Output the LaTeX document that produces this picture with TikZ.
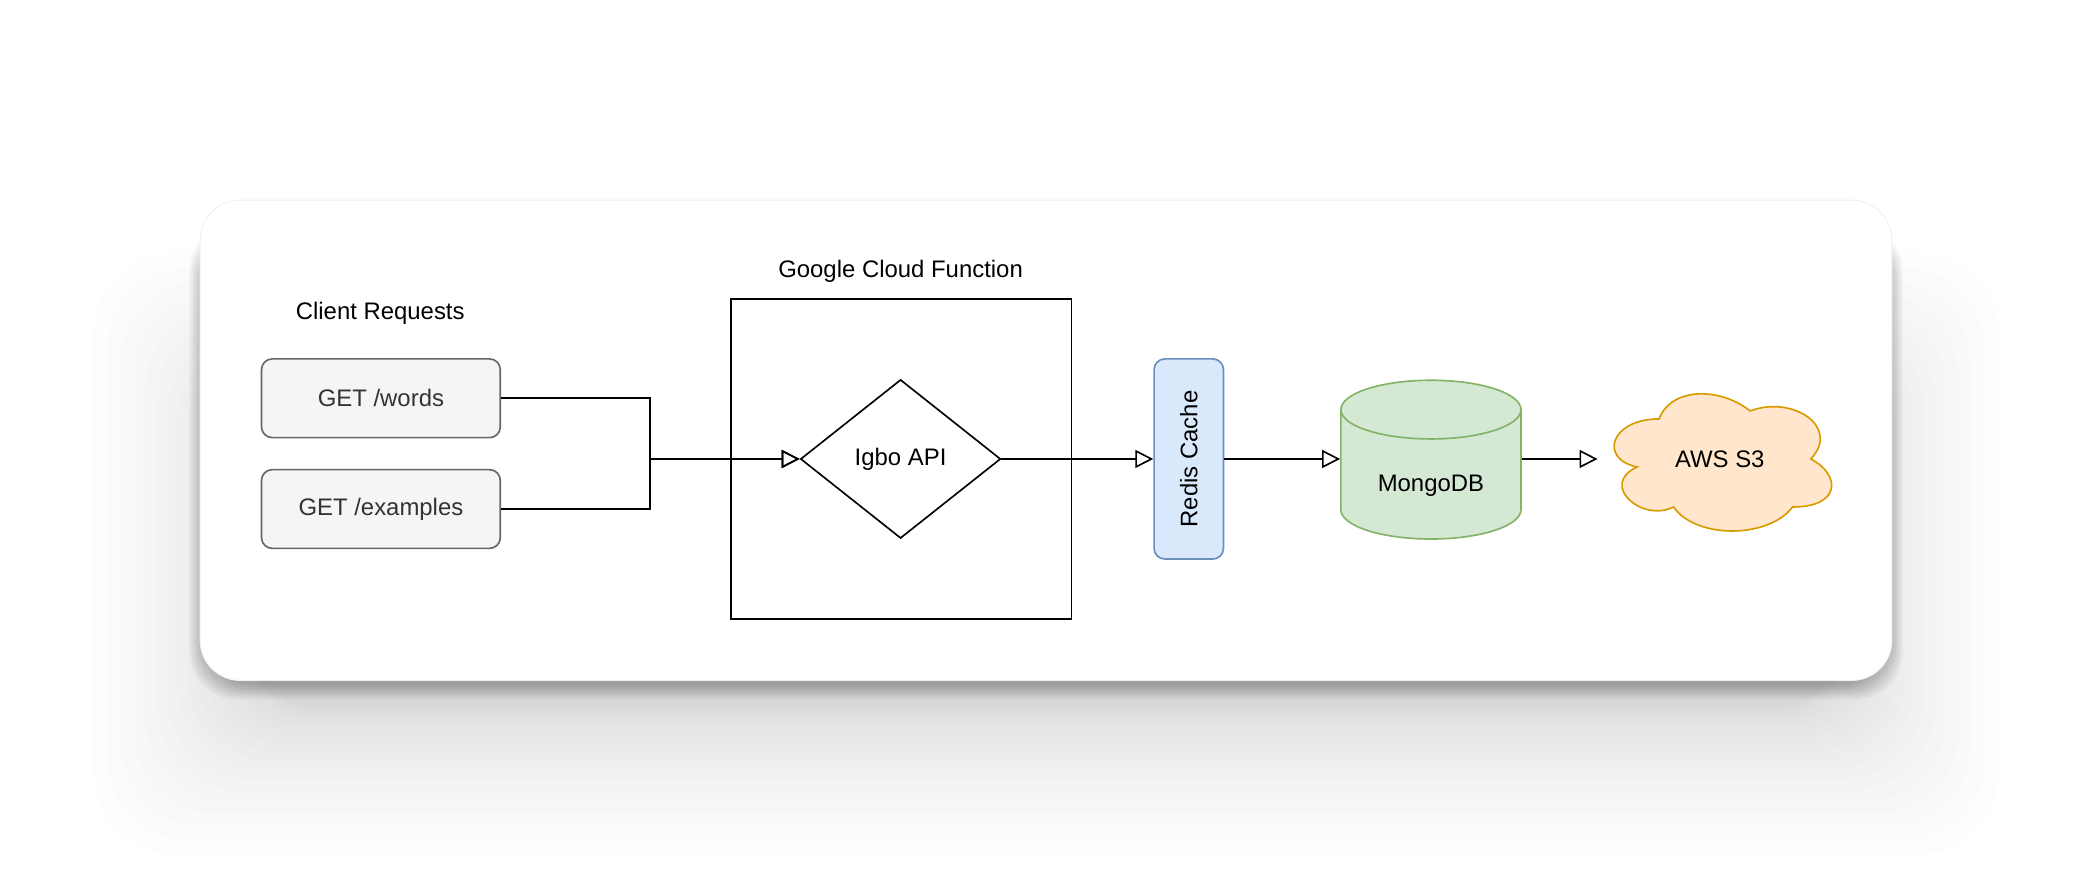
\documentclass[tikz,border=0pt]{standalone}
\usepackage{fontspec}
\setmainfont{Liberation Sans}
\usepackage{graphicx}
\usetikzlibrary{arrows.meta,positioning,shapes.geometric}

\definecolor{reqfill}{HTML}{F5F5F5}
\definecolor{reqdraw}{HTML}{666666}
\definecolor{reqtext}{HTML}{333333}
\definecolor{cachefill}{HTML}{DAE8FC}
\definecolor{cachedraw}{HTML}{6C8EBF}
\definecolor{dbfill}{HTML}{D5E8D4}
\definecolor{dbdraw}{HTML}{82B366}
\definecolor{storefill}{HTML}{FFE6CC}
\definecolor{storedraw}{HTML}{D79B00}

\tikzset{
  reqbox/.style={draw=reqdraw, fill=reqfill, text=reqtext, rounded corners=0.16cm,
    minimum width=3.58cm, minimum height=1.18cm, inner sep=0pt},
  flow/.style={-{Triangle[open, length=0.27cm, width=0.27cm]}},
}

\begin{document}
\begin{tikzpicture}[x=0.02cm, y=-0.02cm, line width=0.7pt,
    font=\fontsize{10.2pt}{12pt}\selectfont]
        \useasboundingbox (0,0) rectangle (1568,660);
        \fill[white] (0,0) rectangle (1568,660);
        % soft shadow under the card: a wide light one and a tight dark one
        \foreach \i in {1,...,20} {
          \pgfmathsetmacro\e{110*(\i/20)^2}
          \fill[black, opacity=0.008, rounded corners=1.2cm] (180-\e,300-\e) rectangle (1388+\e,530+\e);
        }
        \foreach \i in {1,...,8}
          \fill[black, opacity=0.035, rounded corners=0.7cm] (154-1.5*\i,180-1.5*\i) rectangle (1414+1.5*\i,512+1.5*\i);
        \draw[draw=black!6, line width=0.4pt, fill=white, rounded corners=0.6cm] (150,150) rectangle (1418,510);
        % client side
        \node (clientlbl) at (285,235) {Client Requests};
        \node[reqbox] (words) at (285.5,298.5) {GET /words};
        \node[reqbox] (examples) at (285.5,381.5) {GET /examples};
        % cloud function
        \node[draw, minimum width=5.1cm, minimum height=4.8cm] (gcf) at (675.5,344) {};
        \node (gcflbl) at (675,203) {Google Cloud Function};
        \node[draw, diamond, minimum width=3cm, minimum height=2.38cm, inner sep=0pt] (api) at (675,344) {Igbo API};
        % back end
        \node[draw=cachedraw, fill=cachefill, rounded corners=0.16cm, minimum width=1.04cm,
          minimum height=3cm, inner sep=0pt] (redis) at (891,344) {\rotatebox{90}{Redis Cache}};
        \draw[draw=dbdraw, fill=dbfill] (1005,307) -- (1005,382)
          arc[start angle=180, end angle=360, x radius=1.35cm, y radius=0.44cm] -- (1140,307)
          arc[start angle=0, end angle=180, x radius=1.35cm, y radius=0.44cm] -- cycle;
        \draw[dbdraw] (1005,307) arc[start angle=180, end angle=360, x radius=1.35cm, y radius=0.44cm];
        \node[minimum width=2.7cm, minimum height=2.38cm, inner sep=0pt,
          label={[yshift=-0.4cm]center:MongoDB}] (mongo) at (1072.5,344) {};
        \begin{scope}[shift={(1198,284)}, x=3.64cm, y=-2.4cm]
          \draw[draw=storedraw, fill=storefill] (0.25,0.25) .. controls (0.05,0.25) and (0,0.5) .. (0.16,0.55)
            .. controls (0,0.66) and (0.18,0.9) .. (0.31,0.8) .. controls (0.4,1) and (0.7,1) .. (0.8,0.8)
            .. controls (1,0.8) and (1,0.6) .. (0.875,0.5) .. controls (1,0.3) and (0.8,0.1) .. (0.625,0.2)
            .. controls (0.5,0.05) and (0.3,0.05) .. (0.25,0.25) -- cycle;
        \end{scope}
        \node[minimum width=3.64cm, minimum height=2.4cm, inner sep=0pt] (s3) at (1289,344) {AWS S3};
        % connectors
        \coordinate (join) at (487,344);
        \draw[flow] (words.east) -| (join) -- (api.west);
        \draw[flow] (examples.east) -| (join) -- (api.west);
        \draw[flow] (api.east) -- (redis.west);
        \draw[flow] (redis.east) -- (mongo.west);
        \draw[flow] (mongo.east) -- (s3.west);
\end{tikzpicture}
\end{document}
